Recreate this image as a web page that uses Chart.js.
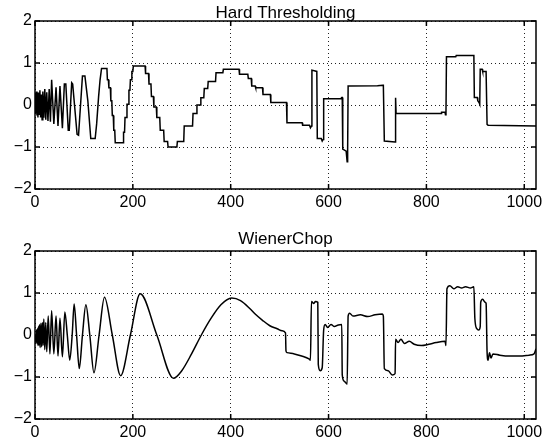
<!DOCTYPE html>
<html>
<head>
<meta charset="utf-8">
<script src="https://cdn.jsdelivr.net/npm/chart.js@4.4.1/dist/chart.umd.min.js"></script>
<style>
  body { margin: 0; background: #fff; }
  #wrap { position: relative; width: 553px; height: 446px; }
  canvas { position: absolute; left: 0; }
</style>
</head>
<body>
<div id="wrap">
  <canvas id="hardChart" width="553" height="230" style="top:0"></canvas>
  <canvas id="wienerChart" width="553" height="216" style="top:230px"></canvas>
</div>
<script>
// axis ticks
const xTicks = [0, 200, 400, 600, 800, 1000];
const yTicks = [-2, -1, 0, 1, 2];

// Hard Thresholding reconstruction (sample index, value)
const hardX = [0, 1, 2, 3, 4, 5, 6, 7, 8.5, 10, 11.5, 13, 14.5, 16, 18, 20, 22, 24, 26.5, 29, 31.5,
  34, 38.5, 43, 47, 51, 56, 60, 63, 68, 70, 75, 77, 86, 89, 97, 102, 108, 112, 114, 123, 126, 130,
  133, 136, 147, 148, 150, 151, 154, 155, 157, 158, 160, 161, 163, 164, 180, 181, 183, 184, 187,
  188, 191, 192, 194, 195, 197, 198, 200, 201, 225, 226, 232, 233, 237, 238, 242, 243, 248, 249,
  255, 256, 263, 264, 271, 272, 290, 291, 304, 305, 322, 323, 330, 331, 338, 339, 345, 346, 353,
  354, 369, 370, 384, 385, 417, 418, 435, 436, 442, 443, 450, 451, 465, 466, 481, 482, 514, 515,
  546, 547, 561, 563, 565, 566, 576, 577, 585, 587, 589, 590, 625, 627, 628, 629, 636, 638, 639,
  640, 700, 711, 712, 714, 736, 737, 738, 830, 831, 838, 839, 840, 841, 860, 861, 897, 898, 904,
  905, 908, 909, 910, 914, 915, 922, 924, 926, 1024];
const hardY = [0, 0.3, -0.2, 0.32, -0.25, 0.28, -0.3, 0.3, -0.22, 0.35, -0.3, 0.25, -0.35, 0.32, -0.3, 0.38, -0.35, 0.3, -0.38, 0.38, -0.4,
  0.6, -0.45, 0.42, -0.5, 0.45, -0.55, 0.5, 0.5, -0.6, -0.6, 0.53, 0.5, -0.7, -0.72, 0.69, 0.69, 0.1, -0.5, -0.8, -0.8, -0.45, 0.2,
  0.6, 0.87, 0.87, 0.6, 0.6, 0.41, 0.41, 0.1, 0.1, -0.25, -0.25, -0.6, -0.6, -0.9, -0.9, -0.65, -0.65, -0.3, -0.3,
  0.02, 0.02, 0.35, 0.35, 0.6, 0.6, 0.8, 0.8, 0.93, 0.93, 0.75, 0.75, 0.5, 0.5, 0.2, 0.2, -0.05, -0.05, -0.3,
  -0.3, -0.6, -0.6, -0.87, -0.87, -1.0, -1.0, -0.87, -0.87, -0.5, -0.5, -0.2, -0.2, 0.0, 0.0, 0.17, 0.17, 0.39, 0.39,
  0.56, 0.56, 0.77, 0.77, 0.85, 0.85, 0.73, 0.73, 0.63, 0.63, 0.45, 0.45, 0.41, 0.41, 0.25, 0.25, 0.06, 0.06, -0.42,
  -0.42, -0.48, -0.48, -0.54, -0.5, 0.83, 0.8, -0.8, -0.8, -0.86, -0.82, 0.15, 0.15, 0.18, 0.18, -1.05, -1.1, -1.35, -1.1,
  0.45, 0.46, 0.47, 0.47, -0.86, -0.88, 0.17, -0.2, -0.2, -0.17, -0.17, -0.23, -0.2, 1.15, 1.15, 1.18, 1.18, 0.18, 0.18,
  0.1, 0.05, 0.02, 0.85, 0.85, 0.8, 0.8, -0.46, -0.48, -0.5];

// WienerChop reconstruction (sample index, value)
const wienerX = [0, 1.5, 3, 4, 5, 6, 7, 8, 9, 10.5, 12, 13.5, 15, 16.5, 18, 20, 22, 24, 27, 30.5, 34,
  38.5, 43, 47, 51, 56, 61, 66, 71, 76, 80, 85, 90.5, 97, 104, 112, 120.5, 131, 142, 158, 175, 195,
  215, 249, 283, 300, 320, 340, 360, 380, 402, 420, 440, 450, 465, 480, 495, 505, 512, 513, 515,
  530, 545, 560, 563, 565, 570, 573, 578, 579, 583, 587, 590, 593, 598, 605, 612, 620, 627, 628,
  632, 638, 640, 643, 650, 665, 680, 695, 710, 712, 714, 722, 730, 736, 737, 742, 748, 755, 765,
  775, 790, 805, 820, 838, 840, 842, 848, 856, 864, 872, 880, 890, 897, 899, 903, 907, 910, 911,
  915, 920, 922, 924, 926, 929, 932, 936, 950, 970, 990, 1010, 1020, 1024];
const wienerY = [0, -0.18, 0.12, -0.2, 0.15, -0.25, 0.2, -0.25, 0.25, -0.3, 0.28, -0.28, 0.3, -0.25, 0.38, -0.35, 0.3, -0.4, 0.45, -0.45, 0.58,
  -0.45, 0.45, -0.5, 0.4, -0.52, 0.55, 0, -0.6, 0, 0.74, 0, -0.8, 0, 0.72, 0, -0.9, 0, 0.9, 0, -0.97, 0,
  0.98, 0, -1.03, -0.85, -0.45, 0.0, 0.4, 0.72, 0.88, 0.82, 0.62, 0.5, 0.35, 0.22, 0.15, 0.1, 0.05, -0.38, -0.42,
  -0.45, -0.5, -0.57, -0.6, 0.8, 0.75, 0.8, 0.78, -0.7, -0.85, -0.78, 0.12, 0.25, 0.18, 0.25, 0.2, 0.24, 0.25, -0.95,
  -1.1, -1.17, 0.45, 0.52, 0.45, 0.48, 0.44, 0.48, 0.5, 0.45, -0.8, -0.85, -0.95, -0.92, -0.1, -0.18, -0.1, -0.2, -0.15,
  -0.22, -0.25, -0.22, -0.18, -0.15, -0.25, 1.1, 1.17, 1.1, 1.15, 1.12, 1.15, 1.12, 1.15, 0.4, 0.15, 0.12, 0.2, 0.78,
  0.85, 0.78, 0.75, -0.4, -0.6, -0.42, -0.55, -0.45, -0.48, -0.5, -0.5, -0.48, -0.45, -0.33];

const FONT = '"Liberation Sans", Arial, Helvetica, sans-serif';

// frame, inward tick marks and title, matlab style
const boxPlugin = {
  id: 'box',
  afterDraw(chart, args, opts) {
    const { ctx, chartArea: a, scales } = chart;
    ctx.save();
    ctx.strokeStyle = '#000';
    ctx.lineWidth = 1.5;
    ctx.strokeRect(a.left, a.top, a.right - a.left, a.bottom - a.top);
    ctx.beginPath();
    xTicks.forEach(v => {
      const px = scales.x.getPixelForValue(v);
      ctx.moveTo(px, a.bottom); ctx.lineTo(px, a.bottom - 5);
      ctx.moveTo(px, a.top); ctx.lineTo(px, a.top + 5);
    });
    yTicks.forEach(v => {
      const py = scales.y.getPixelForValue(v);
      ctx.moveTo(a.left, py); ctx.lineTo(a.left + 5, py);
      ctx.moveTo(a.right, py); ctx.lineTo(a.right - 5, py);
    });
    ctx.stroke();
    ctx.fillStyle = '#000';
    ctx.font = '17px ' + FONT;
    ctx.textAlign = 'center';
    ctx.textBaseline = 'alphabetic';
    ctx.fillText(opts.text, (a.left + a.right) / 2, a.top - opts.gap);
    ctx.restore();
  }
};

function makeChart(id, xs, ys, title, titleGap, xAxisHeight, smooth) {
  const points = xs.map((x, i) => ({ x: x, y: ys[i] }));
  return new Chart(document.getElementById(id), {
    type: 'line',
    data: {
      datasets: [{
        data: points,
        borderColor: '#000',
        borderWidth: 1.5,
        pointRadius: 0,
        tension: 0,
        cubicInterpolationMode: smooth ? 'monotone' : 'default'
      }]
    },
    options: {
      responsive: false,
      animation: false,
      layout: { padding: { top: 21, right: 17, left: 0, bottom: 0 } },
      plugins: {
        legend: { display: false },
        tooltip: { enabled: false },
        box: { text: title, gap: titleGap }
      },
      scales: {
        x: {
          type: 'linear',
          min: 0,
          max: 1024,
          afterBuildTicks: s => { s.ticks = xTicks.map(v => ({ value: v })); },
          afterFit: s => { s.height = xAxisHeight; },
          grid: { color: '#222', lineWidth: 1, drawTicks: false },
          border: { display: false, dash: [1, 3] },
          ticks: {
            color: '#000', padding: 4, maxRotation: 0, font: { size: 16, family: FONT },
            callback: v => String(v)
          }
        },
        y: {
          min: -2,
          max: 2,
          afterBuildTicks: s => { s.ticks = yTicks.map(v => ({ value: v })); },
          afterFit: s => { s.width = 35; },
          grid: { color: '#222', lineWidth: 1, drawTicks: false },
          border: { display: false, dash: [1, 3] },
          ticks: {
            color: '#000', padding: 3, font: { size: 16, family: FONT },
            callback: v => String(v).replace('-', '\u2212')
          }
        }
      }
    },
    plugins: [boxPlugin]
  });
}

makeChart('hardChart', hardX, hardY, 'Hard Thresholding', 3.5, 41, false);
makeChart('wienerChart', wienerX, wienerY, 'WienerChop', 7, 27, true);
</script>
</body>
</html>
